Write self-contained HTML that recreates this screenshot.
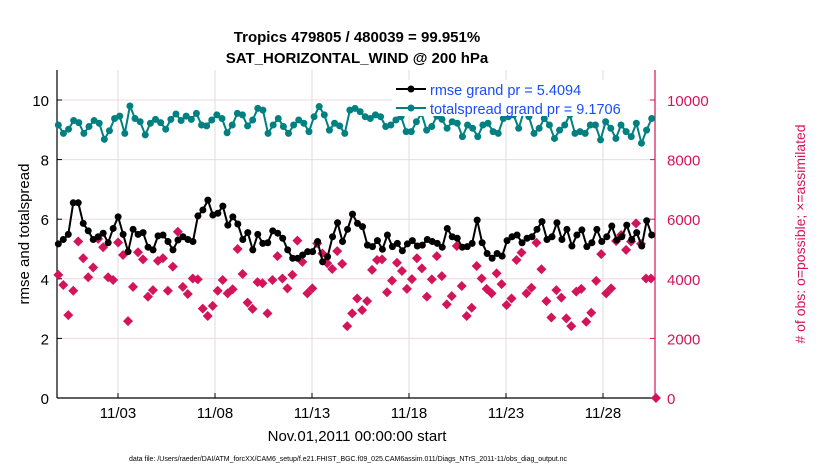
<!DOCTYPE html>
<html><head><meta charset="utf-8"><style>
body{margin:0;background:#fff;}
svg{display:block;font-family:"Liberation Sans",Arial,sans-serif;}
</style></head><body>
<svg id="chart" width="830" height="470" viewBox="0 0 830 470" xmlns="http://www.w3.org/2000/svg">
<g id="grid"></g>
<g id="axes"></g>
<g id="marks"></g>
<text x="357" y="42" text-anchor="middle" font-size="15" font-weight="bold">Tropics 479805 / 480039 = 99.951%</text>
<text x="357" y="63" text-anchor="middle" font-size="15" font-weight="bold">SAT_HORIZONTAL_WIND @ 200 hPa</text>
<text transform="translate(29,234) rotate(-90)" text-anchor="middle" font-size="15">rmse and totalspread</text>
<text transform="translate(805,234) rotate(-90)" text-anchor="middle" font-size="14" fill="#d4145a"># of obs: o=possible; &#215;=assimilated</text>
<text x="357" y="441" text-anchor="middle" font-size="15">Nov.01,2011 00:00:00 start</text>
<text x="348" y="461" text-anchor="middle" font-size="7">data file: /Users/raeder/DAI/ATM_forcXX/CAM6_setup/f.e21.FHIST_BGC.f09_025.CAM6assim.011/Diags_NTrS_2011-11/obs_diag_output.nc</text>
<g>
<rect x="392" y="80" width="255" height="36" fill="#fff"/>
<line x1="396" y1="89" x2="426" y2="89" stroke="#000" stroke-width="2"/>
<circle cx="411" cy="89" r="3.5" fill="#000"/>
<text x="430" y="95" font-size="14.5" fill="#1a4cff">rmse grand pr = 5.4094</text>
<line x1="396" y1="108" x2="426" y2="108" stroke="#008080" stroke-width="2"/>
<circle cx="411" cy="108" r="3.5" fill="#008080"/>
<text x="430" y="114" font-size="14.5" fill="#1a4cff">totalspread grand pr = 9.1706</text>
</g>
</svg>
<script>
const rmse=[5.17,5.32,5.49,6.55,6.55,5.86,5.61,5.32,5.41,5.53,5.21,5.69,6.08,5.49,4.91,5.66,5.49,5.55,5.06,4.97,5.44,5.47,5.25,4.97,5.30,5.41,5.32,5.25,6.11,6.31,6.64,
6.14,6.20,6.44,5.80,6.08,5.84,5.32,5.55,4.97,5.49,5.19,5.21,5.61,5.53,5.36,4.97,4.69,4.69,4.80,4.91,4.91,5.25,4.57,4.74,5.41,5.88,5.25,5.66,6.17,5.86,
5.75,5.13,5.08,5.28,4.99,5.47,5.08,5.19,4.94,5.17,5.28,5.10,5.13,5.32,5.25,5.19,5.06,5.69,5.41,5.36,5.06,5.08,5.19,5.97,5.21,4.85,4.69,4.85,4.76,5.28,
5.41,5.47,5.21,5.36,5.41,5.66,5.92,5.32,5.41,5.88,5.32,5.66,5.10,5.47,5.64,5.08,5.21,5.66,5.25,5.41,5.77,5.30,5.41,5.80,5.32,5.55,5.10,5.95,5.47];
const spread=[9.16,8.88,9.02,9.31,9.24,8.88,9.11,9.31,9.22,8.68,8.97,9.38,9.46,8.88,9.80,9.38,9.27,8.83,9.22,9.35,9.24,9.02,9.35,9.53,9.31,9.46,9.35,9.55,9.16,9.13,9.33,9.50,9.38,8.90,9.16,9.55,9.50,9.13,9.33,9.72,9.66,
8.88,9.16,9.38,9.11,8.88,9.16,9.33,9.22,8.94,9.44,9.78,9.50,8.99,9.22,9.13,8.88,9.66,9.72,9.61,9.44,9.38,9.50,9.44,9.11,9.16,9.33,9.44,8.94,8.94,9.27,9.55,8.99,9.11,9.46,9.35,9.05,9.27,9.22,
8.77,9.16,9.05,8.77,9.16,9.22,8.94,8.88,9.38,9.44,9.50,9.05,9.61,9.44,8.88,9.05,9.38,9.16,8.71,8.99,9.16,9.50,8.88,8.94,8.88,9.16,9.16,8.66,9.27,9.05,8.71,9.16,8.94,8.77,9.22,8.55,8.99,9.38];
const nobs=[4130,3790,2780,3600,5250,4690,4050,4380,5340,5060,4050,3960,5220,4800,2580,3730,4890,4650,3400,3620,4600,4690,3600,4410,5580,3730,3490,4010,3980,3000,2750,
3090,3600,3960,3510,3650,5000,4160,3200,2990,3890,3850,2840,3960,4760,4010,3680,4130,5280,4570,3510,3680,5190,4850,4520,4330,4930,4500,2410,2840,3340,
2950,3250,4300,4630,4650,3550,3940,4540,4260,3660,3990,4690,4350,3400,3980,4760,4090,3140,3420,5100,3760,2750,3030,4430,4010,3660,3510,4180,3820,3120,
3340,4630,4880,3510,3700,5210,4320,3250,2700,3620,3370,2670,2410,3570,3660,2560,2860,3930,4830,3510,3680,5270,5470,4970,5250,5860,5170,4010,4010,0];
const yTicks=[0,2,4,6,8,10];
const y2Ticks=[0,2000,4000,6000,8000,10000];
const xTickDays=[2,7,12,17,22,27];
const xTickLabels=["11/03","11/08","11/13","11/18","11/23","11/28"];
const NS="http://www.w3.org/2000/svg";
const L=57,R=655,T=70,B=398;
const x=d=>79.2+d*19.4;
const y=v=>B-v*29.8;
const y2=v=>B-v*0.0298;
function el(tag,attrs,parent){const e=document.createElementNS(NS,tag);for(const k in attrs)e.setAttribute(k,attrs[k]);parent.appendChild(e);return e;}
const grid=document.getElementById('grid'),axes=document.getElementById('axes'),marks=document.getElementById('marks');
el('rect',{x:L,y:T,width:R-L,height:B-T,fill:'#fff'},grid);
yTicks.forEach(v=>{const g=el('line',{x1:L,x2:R,y1:y(v),y2:y(v),stroke:'#f0d8e0','stroke-width':1},grid);


el('line',{x1:L,x2:L+5,y1:y(v),y2:y(v),stroke:'#000'},axes);
const t=el('text',{x:L-8,y:y(v)+6,'text-anchor':'end','font-size':15},axes);t.textContent=v;

});
y2Ticks.forEach(v=>{el('line',{x1:R-5,x2:R,y1:y2(v),y2:y2(v),stroke:'#d4145a'},axes);
const t=el('text',{x:R+12,y:y2(v)+6,'font-size':15,fill:'#d4145a'},axes);t.textContent=v;

});
xTickDays.forEach((d,i)=>{const g=el('line',{x1:x(d),x2:x(d),y1:T,y2:B,stroke:'#dcdcdc'},grid);


el('line',{x1:x(d),x2:x(d),y1:B,y2:B-5,stroke:'#000'},axes);
const t=el('text',{x:x(d),y:B+20,'text-anchor':'middle','font-size':15},axes);t.textContent=xTickLabels[i];

});
el('line',{x1:L,x2:L,y1:T,y2:B,stroke:'#000','stroke-width':1.2},axes);
el('line',{x1:L,x2:R,y1:B,y2:B,stroke:'#000','stroke-width':1.2},axes);
el('line',{x1:R,x2:R,y1:T,y2:B,stroke:'#d4145a','stroke-width':1.2},axes);
const T0=-1.077;
const tOf=(i,n,tEnd)=>T0+i*((tEnd-T0)/(n-1));
nobs.forEach((v,i)=>{const cx=x(tOf(i,nobs.length,29.73)),cy=y2(v);
const p=el('path',{d:`M${cx},${cy-5}L${cx+5},${cy}L${cx},${cy+5}L${cx-5},${cy}Z`,fill:'#d4145a'},marks);

});
function series(arr,color,name){
const pts=arr.map((v,i)=>[x(tOf(i,arr.length,29.51)),y(v)]);
const pl=el('polyline',{points:pts.map(p=>p.join(',')).join(' '),fill:'none',stroke:color,'stroke-width':2},marks);


pts.forEach(p=>{const c=el('circle',{cx:p[0],cy:p[1],r:3.5,fill:color},marks);

});}
series(spread,'#008080','totalspread');
series(rmse,'#000','rmse');
</script>
</body></html>
